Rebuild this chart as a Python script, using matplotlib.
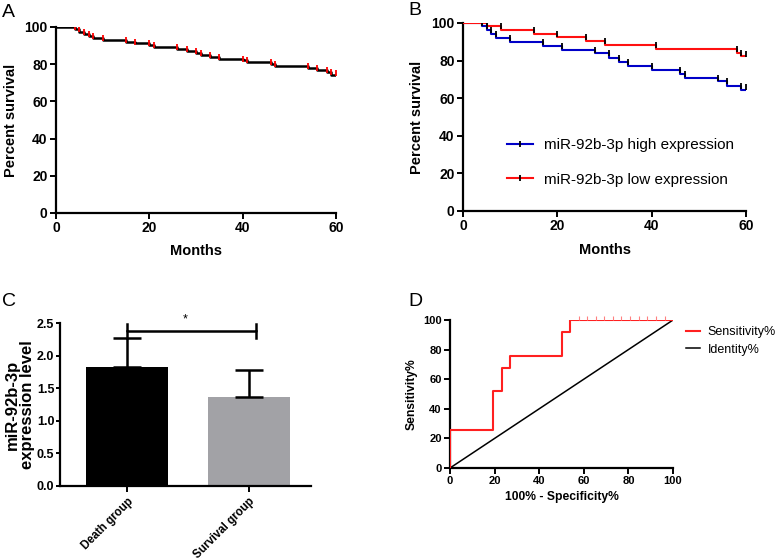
import matplotlib
matplotlib.use("Agg")
import matplotlib.pyplot as plt
from matplotlib.lines import Line2D
import numpy as np

plt.rcParams['font.family'] = ['Liberation Sans', 'DejaVu Sans']

# ---------------- Data ----------------
# Panel A: overall Kaplan-Meier
a_time = [0, 4, 5, 6, 7, 8, 10, 15, 17, 20, 21, 26, 28, 30, 31, 33, 35, 40, 41, 46, 47, 54, 56, 58, 59, 60]
a_surv = [100, 98.7, 97.4, 96.3, 95.2, 94.1, 93.2, 92.2, 91.2, 90.3, 89.0, 88.0, 87.0, 86.0, 85.0,
          84.0, 83.0, 82.3, 81.0, 80.0, 78.9, 77.8, 76.8, 75.8, 74.2, 74.2]

# Panel B: high vs low expression
b_high_time = [0, 4, 5, 6, 7, 10, 17, 21, 28, 31, 33, 35, 40, 46, 47, 54, 56, 59, 60]
b_high_surv = [100, 98.2, 96.3, 94.3, 91.8, 89.9, 87.8, 85.8, 83.9, 81.6, 79.4, 77.3, 75.2, 73.0,
               70.9, 69.0, 66.7, 64.5, 64.5]
b_low_time = [0, 5, 8, 15, 20, 26, 30, 41, 58, 59, 60]
b_low_surv = [100, 98.2, 96.1, 94.3, 92.4, 90.4, 88.5, 86.3, 84.2, 82.4, 82.4]
b_labels = ["miR-92b-3p high expression", "miR-92b-3p low expression"]

# Panel C: expression level bars
c_groups = ["Death group", "Survival group"]
c_means = [1.83, 1.36]
c_sd = [0.44, 0.42]
c_sig_y = 2.38
c_sig_text = "*"

# Panel D: ROC curve
d_fpr = [0, 0, 19.2, 19.2, 23.1, 23.1, 26.9, 26.9, 50.0, 50.0, 53.8, 53.8,
         57.7, 61.5, 65.4, 69.2, 73.1, 76.9, 80.8, 84.6, 88.5, 92.3, 96.2, 100]
d_tpr = [0, 26, 26, 52, 52, 67.3, 67.3, 75.6, 75.6, 91.9, 91.9, 100,
         100, 100, 100, 100, 100, 100, 100, 100, 100, 100, 100, 100]
d_identity = [0, 100]
d_labels = ["Sensitivity%", "Identity%"]

# ---------------- Figure ----------------
W, H = 777, 560
fig = plt.figure(figsize=(W / 100, H / 100), dpi=100)


def px_axes(x0, x1, y0, y1):
    return fig.add_axes([x0 / W, 1 - y1 / H, (x1 - x0) / W, (y1 - y0) / H])


def style(ax, tick_fs, length=4, pad=2):
    for s in ['top', 'right']:
        ax.spines[s].set_visible(False)
    for s in ['left', 'bottom']:
        ax.spines[s].set_linewidth(1.6)
    ax.tick_params(width=1.4, length=length, labelsize=tick_fs, pad=pad)
    for lab in ax.get_xticklabels() + ax.get_yticklabels():
        lab.set_fontweight('bold')


def km(ax, t, s, color, tick_color, lw=1.5):
    ax.step(t, s, where='post', color=color, lw=lw, zorder=3)
    ax.plot(t[1:-1], s[:-2], ls='none', marker='|', ms=4, mew=1.3, color=tick_color, zorder=4)
    ax.plot([t[-1]], [s[-1] + 1.2], ls='none', marker='|', ms=4, mew=1.3, color=tick_color, zorder=4)


# Panel A
axA = px_axes(56, 336, 27, 213)
km(axA, a_time, a_surv, 'black', '#ff0000', lw=1.8)
axA.set_xlim(0, 60)
axA.set_ylim(0, 100)
axA.set_xticks([0, 20, 40, 60])
axA.set_yticks([0, 20, 40, 60, 80, 100])
style(axA, 10)
axA.set_xlabel("Months", fontsize=10.5, fontweight='bold')
axA.set_ylabel("Percent survival", fontsize=10.5, fontweight='bold')
axA.xaxis.set_label_coords(0.5, -0.165)
axA.yaxis.set_label_coords(-0.136, 0.5)

# Panel B
axB = px_axes(463, 746, 23, 211)
km(axB, b_high_time, b_high_surv, '#0000c8', 'black')
km(axB, b_low_time, b_low_surv, '#ff1010', 'black')
axB.set_xlim(0, 60)
axB.set_ylim(0, 100)
axB.set_xticks([0, 20, 40, 60])
axB.set_yticks([0, 20, 40, 60, 80, 100])
style(axB, 10)
axB.set_xlabel("Months", fontsize=10.5, fontweight='bold')
axB.set_ylabel("Percent survival", fontsize=10.5, fontweight='bold')
axB.xaxis.set_label_coords(0.5, -0.17)
axB.yaxis.set_label_coords(-0.138, 0.5)
handlesB = [Line2D([], [], color='#0000c8', lw=1.5, marker='|', ms=4, mec='black', mew=1.3),
            Line2D([], [], color='#ff1010', lw=1.5, marker='|', ms=4, mec='black', mew=1.3)]
axB.legend(handlesB, b_labels, loc='upper left', bbox_to_anchor=(0.155, 0.388), frameon=False,
           fontsize=11, handlelength=1.7, handletextpad=0.7, labelspacing=1.35,
           borderaxespad=0, borderpad=0)

# Panel C
axC = px_axes(60, 311, 323, 486)
xc = np.arange(len(c_groups))
axC.bar(xc, c_means, width=0.67, color=['black', '#a2a2a6'], zorder=2)
axC.errorbar(xc, c_means, yerr=[[0, 0], c_sd], fmt='none', ecolor='black', elinewidth=1.8,
             capsize=10, capthick=1.8, zorder=3)
axC.plot([xc[0], xc[0], 1.06, 1.06], [2.48, c_sig_y, c_sig_y, 2.48],
         color='black', lw=1.8, zorder=4, clip_on=False)
axC.plot([xc[0], xc[0]], [c_sig_y, 2.27], color='black', lw=1.8, zorder=4)
axC.plot([1.06, 1.06], [c_sig_y, 2.27], color='black', lw=1.8, zorder=4)
axC.text(0.48, 2.56, c_sig_text, ha='center', va='center', fontsize=9)
axC.set_xlim(-0.55, 1.51)
axC.set_ylim(0, 2.5)
axC.set_yticks([0, 0.5, 1.0, 1.5, 2.0, 2.5])
axC.set_yticklabels(["0.0", "0.5", "1.0", "1.5", "2.0", "2.5"])
axC.set_xticks(xc)
axC.set_xticklabels(c_groups, rotation=45, ha='right', rotation_mode='anchor')
style(axC, 9, length=3, pad=1)
for lab in axC.get_xticklabels():
    lab.set_fontsize(8.3)
axC.tick_params(axis='x', pad=3, length=4)
axC.set_ylabel("miR-92b-3p\nexpression level", fontsize=12, fontweight='bold', linespacing=1.0)
axC.yaxis.set_label_coords(-0.1, 0.5)

# Panel D
axD = px_axes(450, 673, 320, 468)
axD.plot(d_identity, d_identity, color='black', lw=1.1, zorder=2, label=d_labels[1])
axD.plot(d_fpr, d_tpr, color='#ff2020', lw=1.5, zorder=3, label=d_labels[0])
top = [(f, t) for f, t in zip(d_fpr, d_tpr) if t >= 100 and f > 54 and f < 100]
axD.plot([p[0] for p in top], [p[1] + 1.2 for p in top], ls='none', marker='|', ms=2.5,
         mew=0.8, color='#ff8080', zorder=3, clip_on=False)
axD.set_xlim(0, 100)
axD.set_ylim(0, 100)
axD.set_xticks([0, 20, 40, 60, 80, 100])
axD.set_yticks([0, 20, 40, 60, 80, 100])
style(axD, 8)
axD.set_xlabel("100% - Specificity%", fontsize=8.7, fontweight='bold')
axD.set_ylabel("Sensitivity%", fontsize=8.7, fontweight='bold')
axD.xaxis.set_label_coords(0.5, -0.155)
axD.yaxis.set_label_coords(-0.143, 0.5)
hD = [Line2D([], [], color='#ff2020', lw=1.5), Line2D([], [], color='black', lw=1.1)]
axD.legend(hD, d_labels, loc='upper left', bbox_to_anchor=(1.06, 0.96), frameon=False,
           fontsize=9, handlelength=1.1, handletextpad=0.6, labelspacing=0.45,
           borderaxespad=0, borderpad=0)

# Panel letters
for lbl, x, y in [("A", 2, 4), ("B", 408, 2), ("C", 2, 293), ("D", 408, 293)]:
    fig.text(x / W, 1 - y / H, lbl, fontsize=14, ha='left', va='top')

fig.savefig("out.png", dpi=100)
